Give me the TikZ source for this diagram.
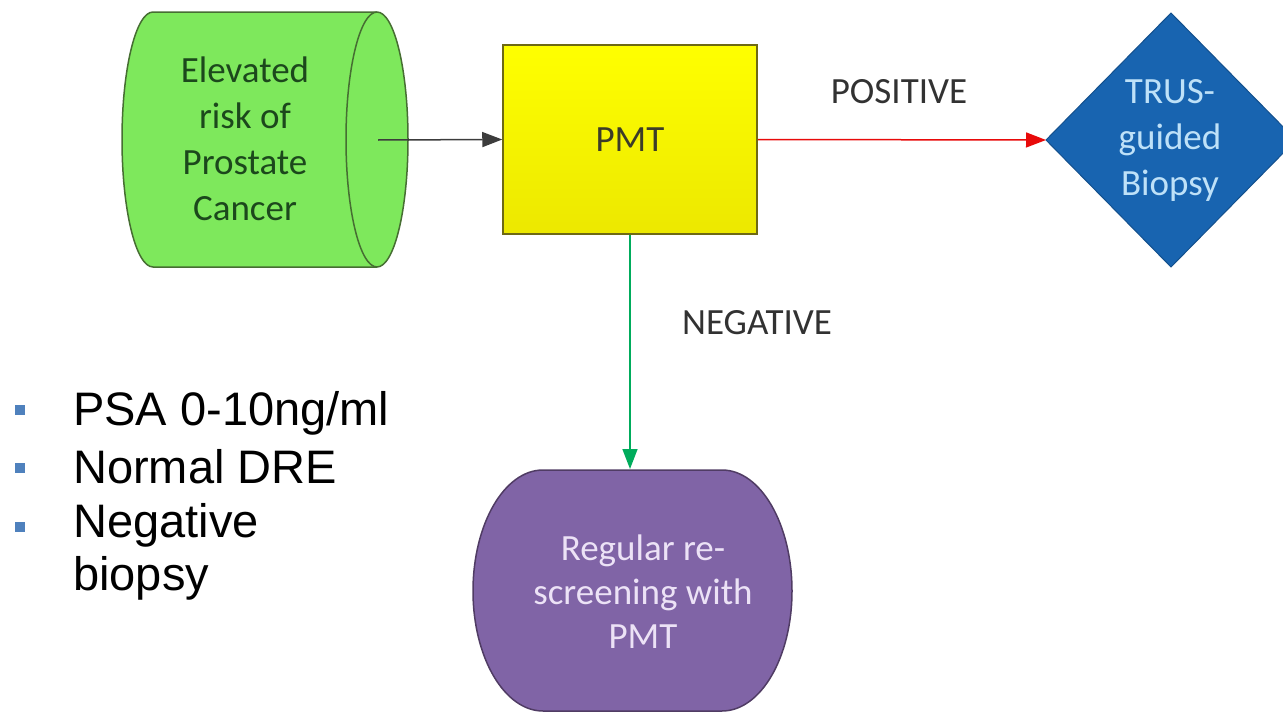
\documentclass[tikz,border=0pt]{standalone}
\usepackage{fontspec}
\setmainfont{Carlito}
\newfontfamily\arialfont{Liberation Sans}
\usetikzlibrary{arrows.meta}
\definecolor{elevfill}{RGB}{126,232,92}
\definecolor{elevdraw}{RGB}{70,110,50}
\definecolor{elevtext}{RGB}{28,72,28}
\definecolor{pmttop}{RGB}{255,255,0}
\definecolor{pmtbot}{RGB}{236,232,0}
\definecolor{pmtdraw}{RGB}{110,105,20}
\definecolor{pmttext}{RGB}{60,60,40}
\definecolor{trusfill}{RGB}{24,100,176}
\definecolor{trustext}{RGB}{190,225,248}
\definecolor{regfill}{RGB}{128,100,166}
\definecolor{regdraw}{RGB}{80,60,100}
\definecolor{regtext}{RGB}{236,226,246}
\definecolor{lbltext}{RGB}{50,50,50}
\definecolor{arrblack}{RGB}{60,60,60}
\definecolor{arrred}{RGB}{232,10,10}
\definecolor{arrgreen}{RGB}{0,172,92}
\definecolor{bulletc}{RGB}{79,129,189}
\tikzset{
  boxtext/.style={align=center, inner sep=0pt, font=\fontsize{37}{46}\selectfont},
  lbl/.style={inner sep=0pt, text=lbltext, font=\fontsize{37}{46}\selectfont},
  conn/.style={line width=1.5pt, -{Triangle[length=20pt,width=15pt]}},
  bullettext/.style={anchor=base west, inner sep=0pt, align=left, font=\arialfont\fontsize{47}{53}\selectfont},
  bulletsq/.style={fill=bulletc, draw=none}
}
\begin{document}
\begin{tikzpicture}[x=1pt,y=-1pt]
\useasboundingbox (0,0) rectangle (1283,712);
\clip (0,0) rectangle (1283,712);

% green sideways cylinder
\draw[fill=elevfill, draw=elevdraw, line width=1.5pt]
  (153,12) -- (377,12) arc[start angle=-90, end angle=90, x radius=31, y radius=127.5]
  -- (153,267) arc[start angle=90, end angle=270, x radius=31, y radius=127.5] -- cycle;
\draw[draw=elevdraw, line width=1.5pt]
  (377,12) arc[start angle=-90, end angle=-270, x radius=31, y radius=127.5];
\node[boxtext, text=elevtext] (elev) at (245,139) {Elevated\\risk of\\Prostate\\Cancer};
\coordinate (elevout) at (378,140);

% PMT box
\node[draw=pmtdraw, line width=1.5pt, top color=pmttop, bottom color=pmtbot,
      minimum width=254pt, minimum height=189pt, inner sep=0pt,
      text=pmttext, font=\fontsize{37}{46}\selectfont] (pmt) at (630,139.5) {PMT};

% TRUS diamond
\draw[fill=trusfill, draw=trusfill!80!black, line width=1pt]
  (1046,140) -- (1171,13) -- (1296,140) -- (1171,267) -- cycle;
\coordinate (trusin) at (1046,140);
\node[boxtext, text=trustext] (trus) at (1170,140) {TRUS-\\guided\\Biopsy};

% purple rescreening shape
\draw[fill=regfill, draw=regdraw, line width=1.5pt]
  (543,470) -- (722,470) arc[start angle=-90, end angle=0, x radius=70, y radius=121]
  arc[start angle=0, end angle=90, x radius=70, y radius=120]
  -- (543,711) arc[start angle=90, end angle=180, x radius=70, y radius=120]
  arc[start angle=180, end angle=270, x radius=70, y radius=121] -- cycle;
\coordinate (regin) at (630,469);
\node[boxtext, text=regtext, font=\fontsize{37}{44}\selectfont] (reg) at (643,592) {Regular re-\\screening with\\PMT};

% connectors
\draw[conn, arrblack] (elevout) -- (pmt.west);
\draw[conn, arrred] (pmt.east) -- (trusin);
\draw[conn, arrgreen] (pmt.south) -- (regin);

% labels
\node[lbl] (pos) at (899,92) {POSITIVE};
\node[lbl] (neg) at (757,323) {NEGATIVE};

% bullets
\fill[bulletsq] (15,405) rectangle (25,415);
\fill[bulletsq] (15,463) rectangle (25,473);
\fill[bulletsq] (15,522) rectangle (25,532);
\node[bullettext] (b1) at (73,425) {PSA 0-10ng/ml};
\node[bullettext] (b2) at (73,483) {Normal DRE};
\node[bullettext, anchor=north west] (b3) at (73,503) {Negative\\biopsy};
\end{tikzpicture}
\end{document}
